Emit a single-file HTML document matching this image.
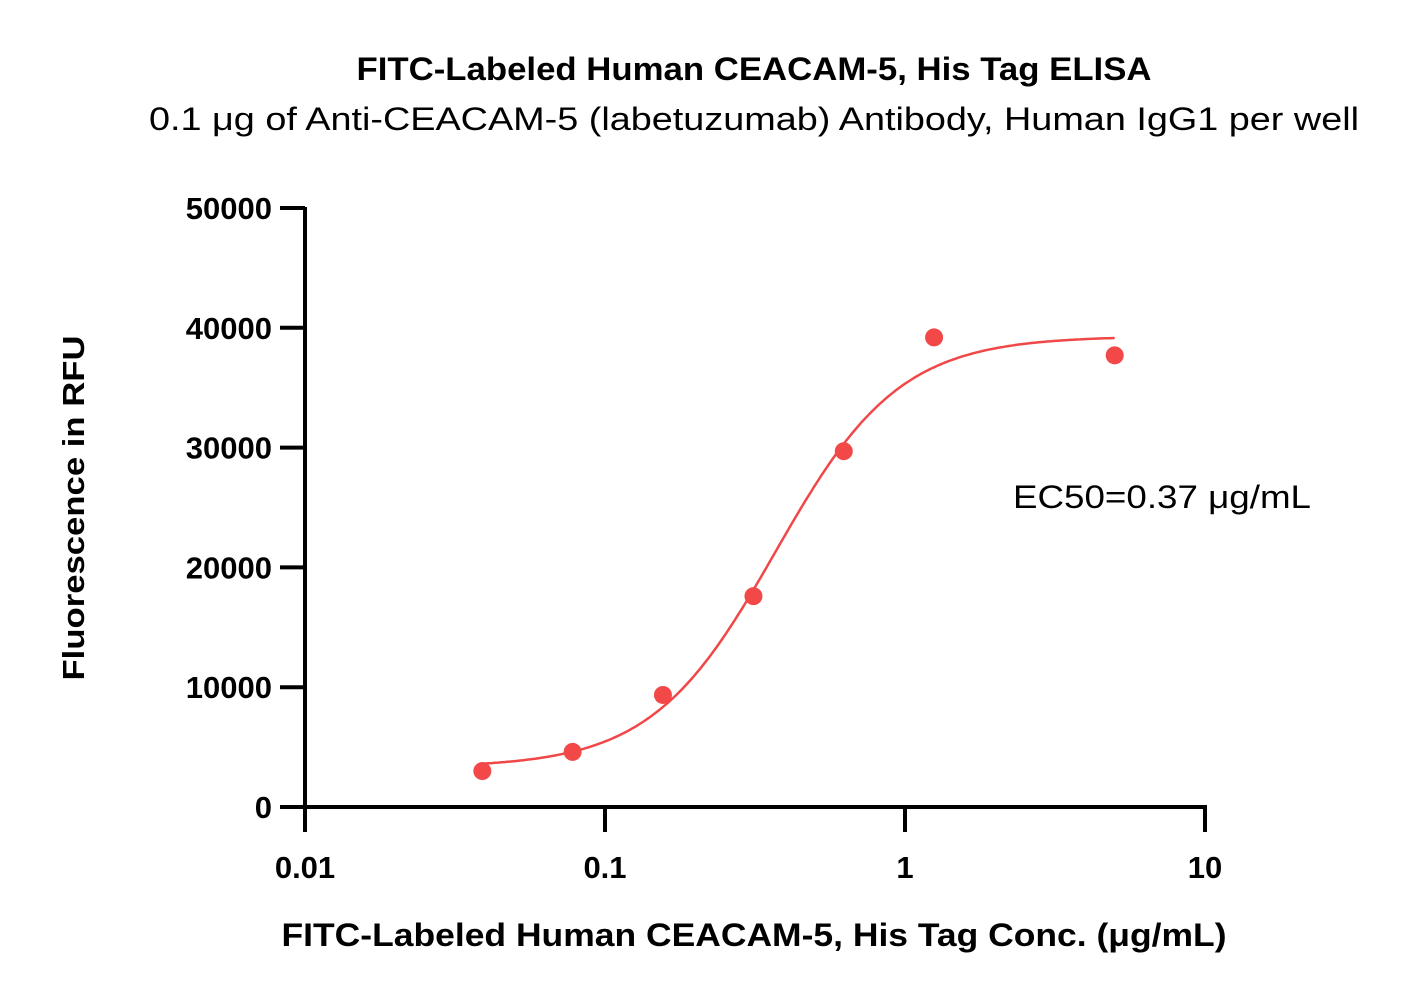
<!DOCTYPE html>
<html><head><meta charset="utf-8"><style>
body{margin:0;background:#fff;}
svg text{font-family:"Liberation Sans",sans-serif;}
</style></head><body>
<svg id="chart" width="1403" height="1002" viewBox="0 0 1403 1002">
<text x="754" y="80" text-anchor="middle" font-size="32" font-weight="bold" textLength="795" lengthAdjust="spacingAndGlyphs">FITC-Labeled Human CEACAM-5, His Tag ELISA</text>
<text x="754" y="130" text-anchor="middle" font-size="32" textLength="1210" lengthAdjust="spacingAndGlyphs">0.1 μg of Anti-CEACAM-5 (labetuzumab) Antibody, Human IgG1 per well</text>
<text transform="translate(84,508) rotate(-90)" text-anchor="middle" font-size="31" font-weight="bold" textLength="345" lengthAdjust="spacingAndGlyphs">Fluorescence in RFU</text>
<text x="754" y="946" text-anchor="middle" font-size="32" font-weight="bold" textLength="945" lengthAdjust="spacingAndGlyphs">FITC-Labeled Human CEACAM-5, His Tag Conc. (μg/mL)</text>
<text x="1013" y="508" font-size="32" textLength="298" lengthAdjust="spacingAndGlyphs">EC50=0.37 μg/mL</text>
<g id="axes"></g><g id="plot"></g>
</svg>
<script>
const xTicks=[0.01,0.1,1,10];
const xTickLabels=["0.01","0.1","1","10"];
const yTicks=[0,10000,20000,30000,40000,50000];
const yTickLabels=["0","10000","20000","30000","40000","50000"];
const concentrations=[0.039,0.078,0.156,0.3125,0.625,1.25,5];
const rfu=[3000,4600,9350,17600,29700,39200,37700];
const fitBottom=[3300];
const fitTop=[39300];
const fitEC50=[0.37];
const fitHill=[2.1];
const NS="http://www.w3.org/2000/svg";
const X=v=>305+300*(Math.log10(v)+2);
const Y=v=>807-v*599/50000;
function mk(t,a,p){const e=document.createElementNS(NS,t);for(const k in a)e.setAttribute(k,a[k]);p.appendChild(e);return e;}
const ax=document.getElementById('axes'),pl=document.getElementById('plot');
let e=mk('line',{x1:305,y1:Y(50000)-1,x2:305,y2:807,stroke:'#000','stroke-width':4},ax);

e=mk('line',{x1:305,y1:807,x2:X(10)+2,y2:807,stroke:'#000','stroke-width':4},ax);

yTicks.forEach((v,i)=>{
 let t=mk('line',{x1:280,y1:Y(v),x2:305,y2:Y(v),stroke:'#000','stroke-width':4},ax);
 
 let l=mk('text',{x:272,y:Y(v)+11,'text-anchor':'end','font-size':31,'font-weight':'bold'},ax);
 l.textContent=yTickLabels[i];
 
});
xTicks.forEach((v,i)=>{
 let t=mk('line',{x1:X(v),y1:807,x2:X(v),y2:832,stroke:'#000','stroke-width':4},ax);
 
 let l=mk('text',{x:X(v),y:878,'text-anchor':'middle','font-size':31,'font-weight':'bold'},ax);
 l.textContent=xTickLabels[i];
 
});
const f=x=>fitBottom[0]+(fitTop[0]-fitBottom[0])/(1+Math.pow(fitEC50[0]/x,fitHill[0]));
let d='';const lo=Math.log10(concentrations[0]),hi=Math.log10(concentrations[concentrations.length-1]);
for(let i=0;i<=200;i++){const lx=lo+(hi-lo)*i/200,x=Math.pow(10,lx);d+=(i?'L':'M')+X(x).toFixed(1)+','+Y(f(x)).toFixed(1);}
e=mk('path',{d:d,fill:'none',stroke:'#f04848','stroke-width':2.5},pl);

concentrations.forEach((c,i)=>{
 let p=mk('circle',{cx:X(c),cy:Y(rfu[i]),r:9,fill:'#f24848'},pl);
 
});
</script>
</body></html>
